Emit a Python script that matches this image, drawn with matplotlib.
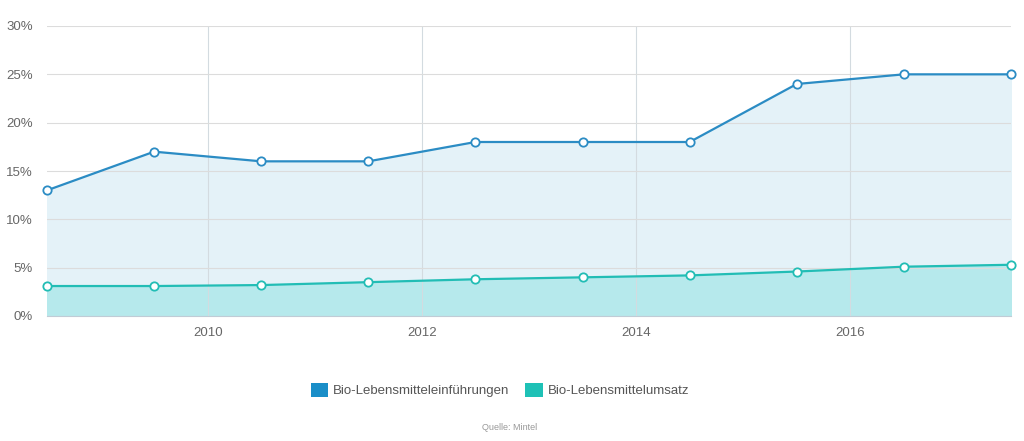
import matplotlib.pyplot as plt
from matplotlib.patches import FancyBboxPatch, Patch

plt.rcParams['font.family'] = ['Liberation Sans', 'DejaVu Sans']

years = [2008.5, 2009.5, 2010.5, 2011.5, 2012.5, 2013.5, 2014.5, 2015.5, 2016.5, 2017.5]
einfuehrungen = [13, 17, 16, 16, 18, 18, 18, 24, 25, 25]
umsatz = [3.1, 3.1, 3.2, 3.5, 3.8, 4.0, 4.2, 4.6, 5.1, 5.3]
labels = ['Bio-Lebensmitteleinführungen', 'Bio-Lebensmittelumsatz']

blue = '#2b8cc4'
teal = '#22bdb5'

fig = plt.figure(figsize=(10.24, 4.41), dpi=100)
ax = fig.add_axes([47 / 1024, 1 - 316 / 441, 964 / 1024, 290 / 441])

ax.fill_between(years, 0, einfuehrungen, color='#e4f2f8', zorder=1)
ax.fill_between(years, 0, umsatz, color='#b6e9ec', zorder=2)
ax.plot(years, einfuehrungen, color=blue, lw=1.6, marker='o', ms=6,
        mfc='white', mec=blue, mew=1.3, zorder=4, clip_on=False)
ax.plot(years, umsatz, color=teal, lw=1.6, marker='o', ms=6,
        mfc='white', mec=teal, mew=1.3, zorder=4, clip_on=False)

ax.set_xlim(2008.5, 2017.5)
ax.set_ylim(0, 30)
ax.set_yticks(range(0, 31, 5))
ax.set_yticklabels([f'{v}%' for v in range(0, 31, 5)])
ax.set_xticks([2010, 2012, 2014, 2016])
ax.set_xticklabels(['2010', '2012', '2014', '2016'])

ax.grid(True, axis='y', color='#dcdcdc', lw=0.8, zorder=3)
ax.grid(True, axis='x', color='#d3dbe0', lw=0.8, zorder=3)
ax.set_axisbelow(False)
for s in ['top', 'right', 'left']:
    ax.spines[s].set_visible(False)
ax.spines['bottom'].set_color('#c0ccd6')
ax.tick_params(length=0, colors='#666666', labelsize=9.5, pad=10)
ax.tick_params(axis='x', pad=8)

handles = [Patch(facecolor='#1a8ec8', edgecolor='none'),
           Patch(facecolor='#1ec1b6', edgecolor='none')]
fig.legend(handles, labels, loc='center', bbox_to_anchor=(500 / 1024, 1 - 390 / 441),
           ncol=2, frameon=False, fontsize=9.5, labelcolor='#555555',
           handlelength=1.3, handleheight=1.3, columnspacing=1.2, handletextpad=0.4)
fig.text(510 / 1024, 1 - 428 / 441, 'Quelle: Mintel', ha='center', va='center',
         fontsize=6.5, color='#999999')

fig.savefig('out.png', dpi=100)
